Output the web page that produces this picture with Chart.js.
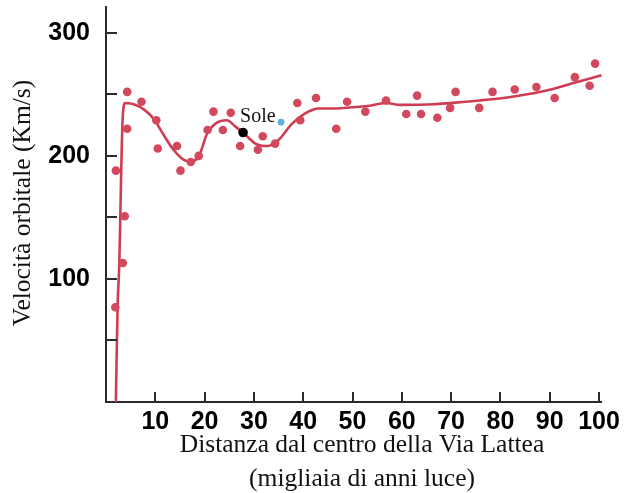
<!DOCTYPE html>
<html>
<head>
<meta charset="utf-8">
<script src="https://cdn.jsdelivr.net/npm/chart.js@4.4.0/dist/chart.umd.min.js"></script>
<style>
  body { margin: 0; background: #fff; }
  #wrap { width: 640px; height: 493px; position: relative; }
</style>
</head>
<body>
<div id="wrap"><canvas id="rotChart"></canvas></div>
<script>
// misure (distanza in migliaia di anni luce, velocità in km/s)
const starX = [1.9, 2.0, 3.4, 3.8, 4.3, 4.3, 7.2, 10.2, 10.5, 14.4, 15.1, 17.2, 18.8, 20.6, 21.8, 23.7, 25.3, 27.2,
  30.8, 31.8, 34.3, 38.8, 39.4, 42.6, 46.7, 48.9, 52.6, 56.8, 60.9, 63.1, 63.9, 67.2, 69.8, 70.9, 75.7, 78.4,
  82.9, 87.3, 91.0, 95.1, 98.1, 99.2];
const starY = [77, 188, 113, 151, 222, 252, 244, 229, 206, 208, 188, 195, 200, 221, 236, 221, 235, 208,
  205, 216, 210, 243, 229, 247, 222, 244, 236, 245, 234, 249, 234, 231, 239, 252, 239, 252,
  254, 256, 247, 264, 257, 275];

// curva di rotazione
const curveX = [2.0, 2.35, 2.7, 2.9, 3.1, 3.4, 3.9, 5.6, 7.6, 9.7, 11.7, 13.7, 15.7, 17.1, 18.8, 20.5, 22.5, 24.5,
  26.2, 27.8, 30.3, 32.7, 35.0, 37.7, 40.4, 43.1, 46.5, 49.9, 52.9, 56.8, 59.7, 66.5, 69.8, 75.7, 81.7, 88.4,
  95.2, 100.5];
const curveY = [0, 77, 113, 150, 190, 232, 243, 242, 238, 230, 217, 205, 197, 195.5, 199.5, 218, 227, 229,
  224, 219, 210, 208, 213, 226, 234.5, 238.5, 238.5, 239.5, 240.5, 243, 241.5, 242, 243, 245, 247.7, 252.3,
  259.6, 265.6];

const sole = [27.8, 219];
const blueStar = [35.5, 227.4];

const xTicks = [10, 20, 30, 40, 50, 60, 70, 80, 90, 100];
const yTicks = [50, 100, 150, 200, 250, 300];
const yLabels = [100, 200, 300];

const red = '#d2485c';
const lineRed = '#cf3d52';
const axisCol = '#2b2b2b';

const pts = (xs, ys) => xs.map((x, i) => ({ x: x, y: ys[i] }));

const extras = {
  id: 'extras',
  afterDraw(chart) {
    const ctx = chart.ctx;
    const xs = chart.scales.x, ys = chart.scales.y;
    const ca = chart.chartArea;
    ctx.save();
    // tacche interne
    ctx.strokeStyle = axisCol;
    ctx.lineWidth = 2;
    ctx.beginPath();
    xTicks.forEach(v => {
      const p = Math.round(xs.getPixelForValue(v));
      ctx.moveTo(p, ca.bottom); ctx.lineTo(p, ca.bottom - 10);
    });
    yTicks.forEach(v => {
      const p = Math.round(ys.getPixelForValue(v));
      ctx.moveTo(ca.left, p); ctx.lineTo(ca.left + 11, p);
    });
    ctx.stroke();

    // etichetta Sole
    ctx.fillStyle = '#111';
    ctx.font = '20px "Liberation Serif", "Times New Roman", serif';
    ctx.textAlign = 'left';
    ctx.textBaseline = 'alphabetic';
    ctx.fillText('Sole', xs.getPixelForValue(sole[0]) - 3, ys.getPixelForValue(sole[1]) - 11);

    // titoli degli assi
    ctx.font = '25.5px "Liberation Serif", "Times New Roman", serif';
    ctx.textAlign = 'center';
    ctx.textBaseline = 'middle';
    ctx.fillText('Distanza dal centro della Via Lattea', 362, 445);
    ctx.fillText('(migliaia di anni luce)', 362, 479);
    ctx.translate(23, 203);
    ctx.rotate(-Math.PI / 2);
    ctx.fillText('Velocità orbitale (Km/s)', 0, 0);
    ctx.restore();
  }
};

new Chart(document.getElementById('rotChart').getContext('2d'), {
  type: 'scatter',
  data: {
    datasets: [
      {
        data: pts([sole[0]], [sole[1]]),
        backgroundColor: '#000', borderWidth: 0, pointRadius: 4.8, clip: false
      },
      {
        data: pts([blueStar[0]], [blueStar[1]]),
        backgroundColor: '#5eb3df', borderWidth: 0, pointRadius: 3.4, clip: false
      },
      {
        data: pts(starX, starY),
        backgroundColor: red, borderWidth: 0, pointRadius: 4.3, clip: false
      },
      {
        data: pts(curveX, curveY),
        showLine: true,
        borderColor: lineRed,
        borderWidth: 2.6,
        pointRadius: 0,
        cubicInterpolationMode: 'monotone',
        clip: false
      }
    ]
  },
  options: {
    responsive: true,
    maintainAspectRatio: false,
    devicePixelRatio: 1,
    animation: false,
    layout: { padding: { top: 7, right: 39, bottom: 0, left: 0 } },
    plugins: { legend: { display: false }, tooltip: { enabled: false } },
    scales: {
      x: {
        type: 'linear', min: 0, max: 100.4,
        afterBuildTicks: s => { s.ticks = xTicks.map(v => ({ value: v })); },
        afterFit: s => { s.height = 91; s.paddingLeft = 0; s.paddingRight = 0; },
        grid: { display: false, drawTicks: false },
        border: { display: true, color: axisCol, width: 2 },
        ticks: {
          color: '#000', padding: 5, maxRotation: 0, autoSkip: false,
          font: { family: '"Liberation Sans", Arial, sans-serif', size: 25, weight: 'bold' }
        }
      },
      y: {
        type: 'linear', min: 0, max: 321,
        afterBuildTicks: s => { s.ticks = yTicks.map(v => ({ value: v })); },
        afterFit: s => { s.width = 106; s.paddingTop = 0; s.paddingBottom = 0; },
        grid: { display: false, drawTicks: false },
        border: { display: true, color: axisCol, width: 2 },
        ticks: {
          color: '#000', padding: 16, autoSkip: false,
          callback: v => yLabels.includes(v) ? String(v) : '',
          font: { family: '"Liberation Sans", Arial, sans-serif', size: 25, weight: 'bold' }
        }
      }
    }
  },
  plugins: [extras]
});
</script>
</body>
</html>
